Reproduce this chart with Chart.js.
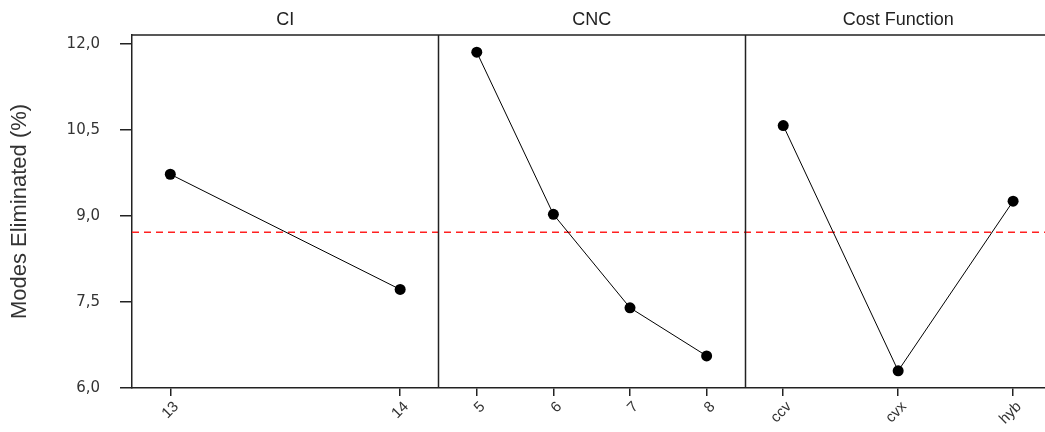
<!DOCTYPE html>
<html>
<head>
<meta charset="utf-8">
<script src="https://cdn.jsdelivr.net/npm/chart.js@4.4.0/dist/chart.umd.min.js"></script>
<style>
  html, body { margin: 0; padding: 0; background: #fff; overflow: hidden; }
  #wrap { position: relative; width: 1045px; height: 432px; overflow: hidden; }
</style>
</head>
<body>
<div id="wrap"><canvas id="c" width="1052" height="432"></canvas></div>
<script>
// ---- data ----
const factorNames = ['CI', 'CNC', 'Cost Function'];
const ciLabels = ['13', '14'];
const ciMeans = [9.73, 7.72];
const cncLabels = ['5', '6', '7', '8'];
const cncMeans = [11.86, 9.03, 7.40, 6.56];
const costLabels = ['ccv', 'cvx', 'hyb'];
const costMeans = [10.58, 6.30, 9.26];
const yTickValues = [6.0, 7.5, 9.0, 10.5, 12.0];
const yTitle = 'Modes Eliminated (%)';

// ---- build ----
const panels = [
  { name: factorNames[0], labels: ciLabels, means: ciMeans },
  { name: factorNames[1], labels: cncLabels, means: cncMeans },
  { name: factorNames[2], labels: costLabels, means: costMeans }
];
const MARGIN = 0.125;
const XMAX = 2.984;
const tickPositions = [];
const tickLabels = [];
const datasets = [];
panels.forEach((p, pi) => {
  const n = p.labels.length;
  const pts = p.means.map((v, i) => {
    const x = pi + MARGIN + (1 - 2 * MARGIN) * i / (n - 1);
    tickPositions.push(x);
    tickLabels.push(p.labels[i]);
    return { x: x, y: v };
  });
  datasets.push({
    data: pts,
    showLine: true,
    borderColor: '#000',
    borderWidth: 1,
    pointRadius: 5.5,
    pointBackgroundColor: '#000',
    pointBorderColor: '#000',
    pointBorderWidth: 0,
    order: 0
  });
});
const allMeansPerFactor = panels.map(p => p.means.reduce((a, b) => a + b, 0) / p.means.length);
const grandMean = allMeansPerFactor.reduce((a, b) => a + b, 0) / allMeansPerFactor.length;
datasets.push({
  data: [{ x: 0, y: grandMean }, { x: XMAX, y: grandMean }],
  showLine: true,
  borderColor: '#ff2020',
  borderWidth: 1.5,
  borderDash: [7, 5],
  pointRadius: 0,
  order: 1
});

const panelPlugin = {
  id: 'panels',
  afterDatasetsDraw(chart) {
    const { ctx, chartArea, scales } = chart;
    const xs = scales.x;
    ctx.save();
    ctx.strokeStyle = '#222';
    ctx.lineWidth = 1.5;
    ctx.beginPath();
    ctx.moveTo(chartArea.left, chartArea.top);
    ctx.lineTo(chartArea.right, chartArea.top);
    for (let i = 1; i < panels.length; i++) {
      const px = Math.round(xs.getPixelForValue(i)) + 0.5;
      ctx.moveTo(px, chartArea.top);
      ctx.lineTo(px, chartArea.bottom);
    }
    ctx.stroke();
    ctx.fillStyle = '#222';
    ctx.font = '18px "Liberation Sans", Arial, sans-serif';
    ctx.textAlign = 'center';
    ctx.textBaseline = 'middle';
    panels.forEach((p, pi) => {
      const cx = (xs.getPixelForValue(pi) + xs.getPixelForValue(pi + 1)) / 2;
      ctx.fillText(p.name, cx, 20);
    });
    ctx.restore();
  }
};

new Chart(document.getElementById('c'), {
  type: 'scatter',
  data: { datasets: datasets },
  options: {
    responsive: false,
    animation: false,
    layout: { padding: { top: 35, left: 0, right: 0, bottom: 0 } },
    plugins: { legend: { display: false }, tooltip: { enabled: false } },
    scales: {
      x: {
        type: 'linear',
        min: 0,
        max: XMAX,
        afterBuildTicks: (s) => { s.ticks = tickPositions.map(v => ({ value: v })); },
        afterFit: (s) => { s.height = 44; },
        ticks: {
          autoSkip: false,
          minRotation: 45,
          maxRotation: 45,
          padding: 2,
          labelOffset: 6,
          color: '#333',
          font: { family: '"Liberation Sans", Arial, sans-serif', size: 15 },
          callback: (v, i) => tickLabels[i]
        },
        grid: { drawOnChartArea: false, drawTicks: true, tickLength: 8, color: '#222', lineWidth: 1.5 },
        border: { display: true, color: '#222', width: 1.5 }
      },
      y: {
        min: 6,
        max: 12.16,
        afterBuildTicks: (s) => { s.ticks = yTickValues.map(v => ({ value: v })); },
        afterFit: (s) => { s.width = 132; },
        ticks: {
          padding: 20,
          color: '#333',
          font: { family: '"DejaVu Sans", sans-serif', size: 15 },
          callback: (v) => v.toFixed(1).replace('.', ',')
        },
        grid: { drawOnChartArea: false, drawTicks: true, tickLength: 12, color: '#222', lineWidth: 1.5 },
        border: { display: true, color: '#222', width: 1.5 },
        title: {
          display: true,
          text: yTitle,
          color: '#333',
          font: { family: '"Liberation Sans", Arial, sans-serif', size: 22 },
          padding: { top: 7, bottom: 0 }
        }
      }
    }
  },
  plugins: [panelPlugin]
});
</script>
</body>
</html>
